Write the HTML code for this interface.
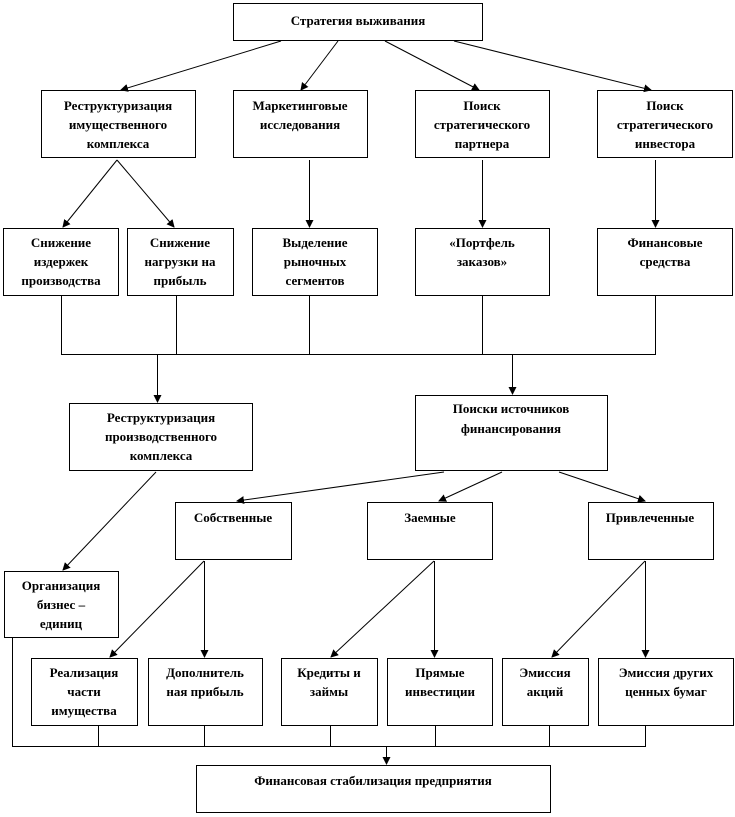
<!DOCTYPE html>
<html><head><meta charset="utf-8"><style>
html,body{margin:0;padding:0;background:#fff}
svg{display:block}
text{font-family:"Liberation Serif","DejaVu Serif",serif;font-weight:bold;font-size:13px;text-anchor:middle;fill:#000}
rect{fill:#fff;stroke:#000;stroke-width:1}
line{stroke:#000;stroke-width:1}
</style></head><body>
<svg width="735" height="817" viewBox="0 0 735 817" xmlns="http://www.w3.org/2000/svg">
<defs><marker id="a" markerWidth="8" markerHeight="8" refX="7" refY="4" orient="auto" markerUnits="userSpaceOnUse"><path d="M0,0 L8,4 L0,8 z" fill="#000"/></marker></defs>
<!-- boxes -->
<rect x="233.5" y="3.5" width="249" height="37"/>
<text x="358" y="25">Стратегия выживания</text>

<rect x="41.5" y="90.5" width="154" height="67"/>
<text x="118" y="110">Реструктуризация</text><text x="118" y="129">имущественного</text><text x="118" y="148">комплекса</text>
<rect x="233.5" y="90.5" width="134" height="67"/>
<text x="300" y="110">Маркетинговые</text><text x="300" y="129">исследования</text>
<rect x="415.5" y="90.5" width="134" height="67"/>
<text x="482" y="110">Поиск</text><text x="482" y="129">стратегического</text><text x="482" y="148">партнера</text>
<rect x="597.5" y="90.5" width="135" height="67"/>
<text x="665" y="110">Поиск</text><text x="665" y="129">стратегического</text><text x="665" y="148">инвестора</text>

<rect x="3.5" y="228.5" width="115" height="67"/>
<text x="61" y="247">Снижение</text><text x="61" y="266">издержек</text><text x="61" y="285">производства</text>
<rect x="127.5" y="228.5" width="106" height="67"/>
<text x="180" y="247">Снижение</text><text x="180" y="266">нагрузки на</text><text x="180" y="285">прибыль</text>
<rect x="252.5" y="228.5" width="125" height="67"/>
<text x="315" y="247">Выделение</text><text x="315" y="266">рыночных</text><text x="315" y="285">сегментов</text>
<rect x="415.5" y="228.5" width="134" height="67"/>
<text x="482" y="247">«Портфель</text><text x="482" y="266">заказов»</text>
<rect x="597.5" y="228.5" width="135" height="67"/>
<text x="665" y="247">Финансовые</text><text x="665" y="266">средства</text>

<rect x="69.5" y="403.5" width="183" height="67"/>
<text x="161" y="422">Реструктуризация</text><text x="161" y="441">производственного</text><text x="161" y="460">комплекса</text>
<rect x="415.5" y="395.5" width="192" height="75"/>
<text x="511" y="413">Поиски источников</text><text x="511" y="433">финансирования</text>

<rect x="175.5" y="502.5" width="116" height="57"/>
<text x="233" y="522">Собственные</text>
<rect x="367.5" y="502.5" width="125" height="57"/>
<text x="430" y="522">Заемные</text>
<rect x="588.5" y="502.5" width="125" height="57"/>
<text x="650" y="522">Привлеченные</text>

<rect x="4.5" y="571.5" width="114" height="66"/>
<text x="61" y="590">Организация</text><text x="61" y="609">бизнес –</text><text x="61" y="628">единиц</text>

<rect x="31.5" y="658.5" width="106" height="67"/>
<text x="84" y="677">Реализация</text><text x="84" y="696">части</text><text x="84" y="715">имущества</text>
<rect x="148.5" y="658.5" width="114" height="67"/>
<text x="205" y="677">Дополнитель</text><text x="205" y="696">ная прибыль</text>
<rect x="281.5" y="658.5" width="96" height="67"/>
<text x="329" y="677">Кредиты и</text><text x="329" y="696">займы</text>
<rect x="387.5" y="658.5" width="105" height="67"/>
<text x="440" y="677">Прямые</text><text x="440" y="696">инвестиции</text>
<rect x="502.5" y="658.5" width="86" height="67"/>
<text x="545" y="677">Эмиссия</text><text x="545" y="696">акций</text>
<rect x="598.5" y="658.5" width="135" height="67"/>
<text x="666" y="677">Эмиссия других</text><text x="666" y="696">ценных бумаг</text>

<rect x="196.5" y="765.5" width="354" height="47"/>
<text x="373" y="785">Финансовая стабилизация предприятия</text>

<!-- connectors -->
<line x1="281" y1="41" x2="121" y2="90" marker-end="url(#a)"/>
<line x1="338" y1="41" x2="301" y2="90" marker-end="url(#a)"/>
<line x1="385" y1="41" x2="479" y2="90" marker-end="url(#a)"/>
<line x1="454" y1="41" x2="651" y2="90" marker-end="url(#a)"/>
<line x1="117" y1="160" x2="63" y2="227" marker-end="url(#a)"/>
<line x1="117" y1="160" x2="174" y2="227" marker-end="url(#a)"/>
<line x1="309.5" y1="160" x2="309.5" y2="227" marker-end="url(#a)"/>
<line x1="482.5" y1="160" x2="482.5" y2="227" marker-end="url(#a)"/>
<line x1="655.5" y1="160" x2="655.5" y2="227" marker-end="url(#a)"/>

<line x1="61.5" y1="296" x2="61.5" y2="354.5"/>
<line x1="176.5" y1="296" x2="176.5" y2="354.5"/>
<line x1="309.5" y1="296" x2="309.5" y2="354.5"/>
<line x1="482.5" y1="296" x2="482.5" y2="354.5"/>
<line x1="655.5" y1="296" x2="655.5" y2="354.5"/>
<line x1="61" y1="354.5" x2="656" y2="354.5"/>
<line x1="157.5" y1="354.5" x2="157.5" y2="402" marker-end="url(#a)"/>
<line x1="512.5" y1="354.5" x2="512.5" y2="394" marker-end="url(#a)"/>

<line x1="444" y1="472" x2="237" y2="501" marker-end="url(#a)"/>
<line x1="502" y1="472" x2="439" y2="501" marker-end="url(#a)"/>
<line x1="559" y1="472" x2="645" y2="501" marker-end="url(#a)"/>
<line x1="156" y1="472" x2="63" y2="570" marker-end="url(#a)"/>

<line x1="204" y1="561" x2="110" y2="657" marker-end="url(#a)"/>
<line x1="204.5" y1="561" x2="204.5" y2="657" marker-end="url(#a)"/>
<line x1="434" y1="561" x2="331" y2="657" marker-end="url(#a)"/>
<line x1="434.5" y1="561" x2="434.5" y2="657" marker-end="url(#a)"/>
<line x1="645" y1="561" x2="552" y2="657" marker-end="url(#a)"/>
<line x1="645.5" y1="561" x2="645.5" y2="657" marker-end="url(#a)"/>

<line x1="12.5" y1="638" x2="12.5" y2="746.5"/>
<line x1="98.5" y1="726" x2="98.5" y2="746.5"/>
<line x1="204.5" y1="726" x2="204.5" y2="746.5"/>
<line x1="330.5" y1="726" x2="330.5" y2="746.5"/>
<line x1="435.5" y1="726" x2="435.5" y2="746.5"/>
<line x1="549.5" y1="726" x2="549.5" y2="746.5"/>
<line x1="645.5" y1="726" x2="645.5" y2="746.5"/>
<line x1="12" y1="746.5" x2="646" y2="746.5"/>
<line x1="386.5" y1="746.5" x2="386.5" y2="764" marker-end="url(#a)"/>
</svg>
</body></html>
